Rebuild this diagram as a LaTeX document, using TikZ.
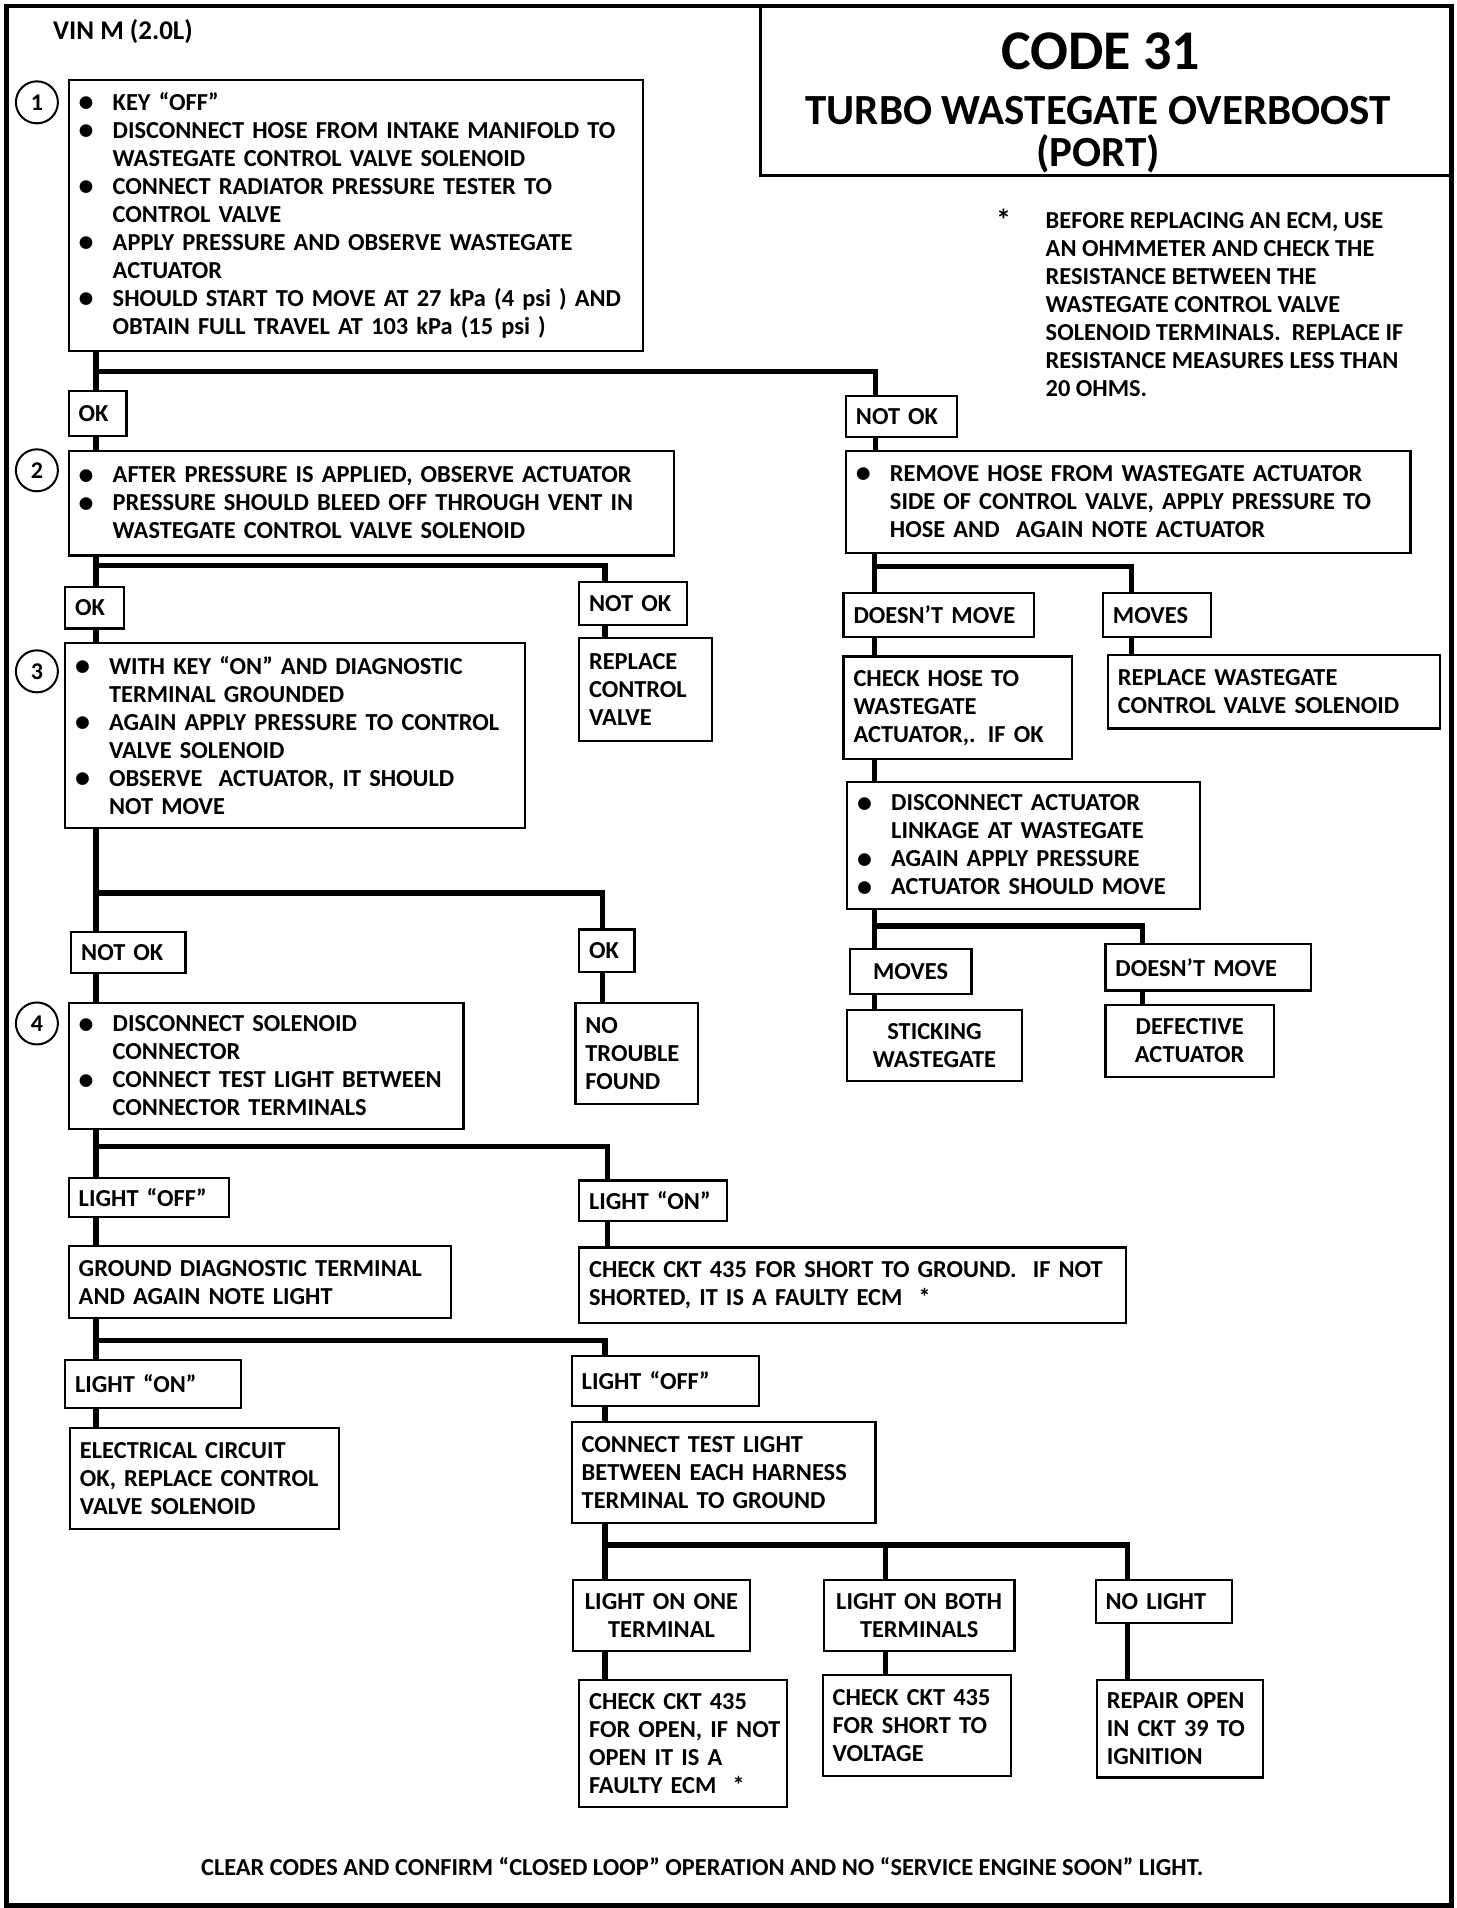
\documentclass[tikz,border=0pt]{standalone}
\usepackage{fontspec}
\setmainfont{Carlito}
\newcommand\LL[1]{\mbox{#1}}
\newcommand\bigdot{\raisebox{-0.6pt}{\fontsize{15}{14}\selectfont\textbullet}}
\newcommand\bul[1]{\mbox{\makebox[17pt][l]{\bigdot}#1}}
\newcommand\cnt[1]{\mbox{\hspace*{17pt}#1}}
\newcommand\Bx[7][]{%
  \pgfmathsetmacro\bw{(#5-#3)*0.6149}%
  \pgfmathsetmacro\bh{(#6-#4)*0.6092}%
  \pgfmathsetmacro\tw{\bw-10}%
  \node[box, minimum width=\bw pt, minimum height=\bh pt, text width=\tw pt, #1] (#2) at (#3,#4) {#7};}
\begin{document}
\begin{tikzpicture}[x=0.6149pt,y=-0.6092pt,
  box/.style={draw, line width=1.1pt, fill=white, inner xsep=5pt, inner ysep=0pt,
    font=\bfseries\fontsize{12.2}{14}\selectfont, align=left, anchor=north west},
  conn/.style={line width=2.6pt, line join=miter},
  circ/.style={circle, draw, line width=1pt, minimum size=21pt, inner sep=0pt,
    font=\bfseries\fontsize{12}{14}\selectfont},
  txt/.style={font=\bfseries\fontsize{12.2}{14}\selectfont, inner sep=0pt}]
\useasboundingbox (0,0) rectangle (1184,1566);
% frame and title
\node[draw, line width=2.4pt, minimum width=722.5pt, minimum height=949.8pt, inner sep=0pt] (frame) at (592.5,784.5) {};
\node[draw, line width=1.6pt, anchor=north west, minimum width=346.2pt, minimum height=84.7pt, inner sep=0pt] (title) at (617,4) {};
\node[txt, font=\bfseries\fontsize{28}{30}\selectfont] (code) at (895,42) {CODE 31};
\node[txt, font=\bfseries\fontsize{21.5}{24}\selectfont] (turbo) at (893,91) {TURBO WASTEGATE OVERBOOST};
\node[txt, font=\bfseries\fontsize{21.5}{24}\selectfont] (port) at (893,126) {(PORT)};
\node[txt, font=\bfseries\fontsize{13.5}{14}\selectfont] (vin) at (100,26) {VIN M (2.0L)};
\node[txt, font=\bfseries\fontsize{15}{14}\selectfont] (star) at (816,180) {*};
\node[txt, anchor=north west, align=left] (note) at (850,174) {BEFORE REPLACING AN ECM, USE\\AN OHMMETER AND CHECK THE\\RESISTANCE BETWEEN THE\\WASTEGATE CONTROL VALVE\\SOLENOID TERMINALS.\ \ REPLACE IF\\RESISTANCE MEASURES LESS THAN\\20 OHMS.};
\node[txt] (clear) at (571,1532) {CLEAR CODES AND CONFIRM “CLOSED LOOP” OPERATION AND NO “SERVICE ENGINE SOON” LIGHT.};
% circles
\node[circ] (c1) at (30,84) {1};
\node[circ] (c2) at (30,386) {2};
\node[circ] (c3) at (30,551) {3};
\node[circ] (c4) at (30,840) {4};
% left column boxes
\Bx{b1}{55}{65}{522}{287}{\bul{KEY “OFF”}\\\bul{DISCONNECT HOSE FROM INTAKE MANIFOLD TO}\\\cnt{WASTEGATE CONTROL VALVE SOLENOID}\\\bul{CONNECT RADIATOR PRESSURE TESTER TO}\\\cnt{CONTROL VALVE}\\\bul{APPLY PRESSURE AND OBSERVE WASTEGATE}\\\cnt{ACTUATOR}\\\bul{SHOULD START TO MOVE AT 27 kPa (4 psi ) AND}\\\cnt{OBTAIN FULL TRAVEL AT 103 kPa (15 psi )}}
\Bx{okA}{55}{320}{102}{357}{\LL{OK}}
\Bx{nokA}{687}{324}{777}{358}{\LL{NOT OK}}
\Bx{b2}{55}{369}{547}{455}{\bul{AFTER PRESSURE IS APPLIED, OBSERVE ACTUATOR}\\\bul{PRESSURE SHOULD BLEED OFF THROUGH VENT IN}\\\cnt{WASTEGATE CONTROL VALVE SOLENOID}}
\Bx{okB}{52}{481}{100}{515}{\LL{OK}}
\Bx{nokB}{470}{477}{558}{512}{\LL{NOT OK}}
\Bx{rcv}{470}{523}{578}{607}{\LL{REPLACE}\\\LL{CONTROL}\\\LL{VALVE}}
\Bx{b3}{52}{527}{426}{679}{\bul{WITH KEY “ON” AND DIAGNOSTIC}\\\cnt{TERMINAL GROUNDED}\\\bul{AGAIN APPLY PRESSURE TO CONTROL}\\\cnt{VALVE SOLENOID}\\\bul{OBSERVE\ \ ACTUATOR, IT SHOULD}\\\cnt{NOT MOVE}}
\Bx{nokC}{57}{764}{150}{798}{\LL{NOT OK}}
\Bx{okC}{470}{762}{515}{797}{\LL{OK}}
\Bx{ntf}{467}{822}{567}{905}{\LL{NO}\\\LL{TROUBLE}\\\LL{FOUND}}
\Bx{b4}{55}{822}{376}{926}{\bul{DISCONNECT SOLENOID}\\\cnt{CONNECTOR}\\\bul{CONNECT TEST LIGHT BETWEEN}\\\cnt{CONNECTOR TERMINALS}}
\Bx{loffA}{55}{966}{185}{998}{\LL{LIGHT “OFF”}}
\Bx{lonA}{470}{968}{590}{1001}{\LL{LIGHT “ON”}}
\Bx{ckg}{470}{1023}{915}{1085}{\LL{CHECK CKT 435 FOR SHORT TO GROUND.\ \ IF NOT}\\\LL{SHORTED, IT IS A FAULTY ECM\ \ {\large *}}}
\Bx{gnd}{55}{1022}{366}{1081}{\LL{GROUND DIAGNOSTIC TERMINAL}\\\LL{AND AGAIN NOTE LIGHT}}
\Bx{lonB}{52}{1115}{195}{1155}{\LL{LIGHT “ON”}}
\Bx{loffB}{464}{1112}{616}{1153}{\LL{LIGHT “OFF”}}
\Bx{elec}{56}{1171}{275}{1254}{\LL{ELECTRICAL CIRCUIT}\\\LL{OK, REPLACE CONTROL}\\\LL{VALVE SOLENOID}}
\Bx{ctl}{464}{1166}{711}{1249}{\LL{CONNECT TEST LIGHT}\\\LL{BETWEEN EACH HARNESS}\\\LL{TERMINAL TO GROUND}}
\Bx[align=center]{lone}{465}{1296}{609}{1354}{\LL{LIGHT ON ONE}\\\LL{TERMINAL}}
\Bx[align=center]{lboth}{669}{1296}{824}{1354}{\LL{LIGHT ON BOTH}\\\LL{TERMINALS}}
\Bx{nol}{890}{1296}{1001}{1331}{\LL{NO LIGHT}}
\Bx{cko}{470}{1378}{639}{1482}{\LL{CHECK CKT 435}\\\LL{FOR OPEN, IF NOT}\\\LL{OPEN IT IS A}\\\LL{FAULTY ECM\ \ {\large *}}}
\Bx{cks}{668}{1374}{821}{1457}{\LL{CHECK CKT 435}\\\LL{FOR SHORT TO}\\\LL{VOLTAGE}}
\Bx{rep}{891}{1378}{1026}{1458}{\LL{REPAIR OPEN}\\\LL{IN CKT 39 TO}\\\LL{IGNITION}}
% right column boxes
\Bx{rem}{687}{369}{1146}{453}{\bul{REMOVE HOSE FROM WASTEGATE ACTUATOR}\\\cnt{SIDE OF CONTROL VALVE, APPLY PRESSURE TO}\\\cnt{HOSE AND\ \ AGAIN NOTE ACTUATOR}}
\Bx{dmA}{685}{486}{840}{522}{\LL{DOESN’T MOVE}}
\Bx{mvA}{896}{486}{984}{522}{\LL{MOVES}}
\Bx{rws}{900}{537}{1170}{597}{\LL{REPLACE WASTEGATE}\\\LL{CONTROL VALVE SOLENOID}}
\Bx{chk}{685}{538}{871}{622}{\LL{CHECK HOSE TO}\\\LL{WASTEGATE}\\\LL{ACTUATOR,. IF OK}}
\Bx{dis}{688}{641}{975}{745}{\bul{DISCONNECT ACTUATOR}\\\cnt{LINKAGE AT WASTEGATE}\\\bul{AGAIN APPLY PRESSURE}\\\bul{ACTUATOR SHOULD MOVE}}
\Bx[align=center]{mvB}{690}{778}{789}{815}{\LL{MOVES}}
\Bx{dmB}{898}{774}{1065}{812}{\LL{DOESN’T MOVE}}
\Bx[align=center]{stk}{688}{828}{830}{886}{\LL{STICKING}\\\LL{WASTEGATE}}
\Bx[align=center]{def}{898}{824}{1035}{883}{\LL{DEFECTIVE}\\\LL{ACTUATOR}}
% junction coordinates
\coordinate (sp) at (78,0);
\coordinate (h1) at (712,305);
\coordinate (h2) at (492,464);
\coordinate (h3) at (490,733);
\coordinate (h4) at (494,941);
\coordinate (h5) at (492,1100);
\coordinate (h6a) at (492,1268);
\coordinate (h6b) at (720,1268);
\coordinate (h6c) at (917,1268);
\coordinate (h7a) at (711,465);
\coordinate (h7b) at (920,465);
\coordinate (h8a) at (711,760);
\coordinate (h8b) at (929,760);
% connectors, main spine
\draw[conn] (b1.south -| sp) -- (okA.north -| sp);
\draw[conn] (h1 -| sp) -- (h1) -- (nokA.north -| h1);
\draw[conn] (okA.south -| sp) -- (b2.north -| sp);
\draw[conn] (b2.south -| sp) -- (okB.north -| sp);
\draw[conn] (h2 -| sp) -- (h2) -- (nokB.north -| h2);
\draw[conn] (nokB.south -| h2) -- (rcv.north -| h2);
\draw[conn] (okB.south -| sp) -- (b3.north -| sp);
\draw[conn] (b3.south -| sp) -- (nokC.north -| sp);
\draw[conn] (h3 -| sp) -- (h3) -- (okC.north -| h3);
\draw[conn] (okC.south -| h3) -- (ntf.north -| h3);
\draw[conn] (nokC.south -| sp) -- (b4.north -| sp);
\draw[conn] (b4.south -| sp) -- (loffA.north -| sp);
\draw[conn] (h4 -| sp) -- (h4) -- (lonA.north -| h4);
\draw[conn] (lonA.south -| h4) -- (ckg.north -| h4);
\draw[conn] (loffA.south -| sp) -- (gnd.north -| sp);
\draw[conn] (gnd.south -| sp) -- (lonB.north -| sp);
\draw[conn] (h5 -| sp) -- (h5) -- (loffB.north -| h5);
\draw[conn] (lonB.south -| sp) -- (elec.north -| sp);
\draw[conn] (loffB.south -| h5) -- (ctl.north -| h5);
\draw[conn] (ctl.south -| h6a) -- (lone.north -| h6a);
\draw[conn] (h6a) -- (h6c) -- (nol.north -| h6c);
\draw[conn] (h6b) -- (lboth.north -| h6b);
\draw[conn] (lone.south -| h6a) -- (cko.north -| h6a);
\draw[conn] (lboth.south -| h6b) -- (cks.north -| h6b);
\draw[conn] (nol.south -| h6c) -- (rep.north -| h6c);
% right side
\draw[conn] (nokA.south -| h1) -- (rem.north -| h1);
\draw[conn] (rem.south -| h7a) -- (dmA.north -| h7a);
\draw[conn] (h7a) -- (h7b) -- (mvA.north -| h7b);
\draw[conn] (mvA.south -| h7b) -- (rws.north -| h7b);
\draw[conn] (dmA.south -| h7a) -- (chk.north -| h7a);
\draw[conn] (chk.south -| h7a) -- (dis.north -| h7a);
\draw[conn] (dis.south -| h8a) -- (mvB.north -| h8a);
\draw[conn] (h8a) -- (h8b) -- (dmB.north -| h8b);
\draw[conn] (mvB.south -| h8a) -- (stk.north -| h8a);
\draw[conn] (dmB.south -| h8b) -- (def.north -| h8b);
\end{tikzpicture}
\end{document}
